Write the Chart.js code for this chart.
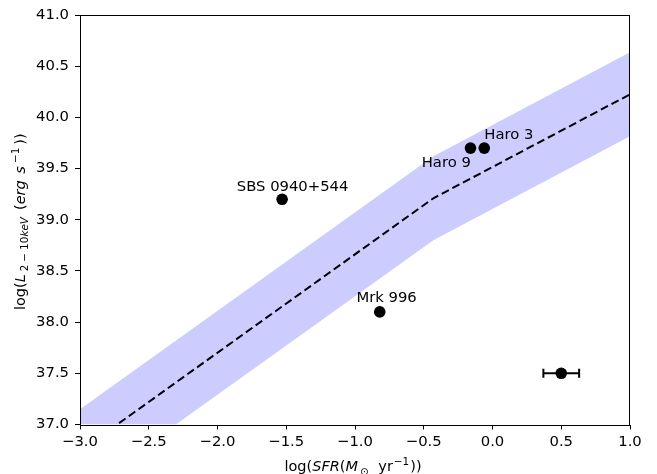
<!DOCTYPE html>
<html>
<head>
<meta charset="utf-8">
<script src="https://cdn.jsdelivr.net/npm/chart.js@4/dist/chart.umd.min.js"></script>
<style>
  body { margin: 0; background: #fff; }
  canvas { display: block; }
</style>
</head>
<body>
<canvas id="lxsfr" width="657" height="474"></canvas>
<script>
// data
var galaxyNames = ["SBS 0940+544", "Haro 9", "Haro 3", "Mrk 996"];
var galaxySFR = [-1.53, -0.16, -0.06, -0.82];
var galaxyLx = [39.2, 39.7, 39.7, 38.1];
// where each label starts (data coords, left edge / middle)
var labelSFR = [-1.86, -0.515, -0.06, -0.99];
var labelLx = [39.32, 39.55, 39.83, 38.23];

var stackSFR = [0.5];
var stackLx = [37.5];
var stackErr = [0.13];

// relation (piecewise) and its scatter band
var relSFR = [-3.0, -0.43, 1.0];
var relLx = [36.74, 39.21, 40.225];
var bandUpper = [37.15, 39.62, 40.635];
var bandLower = [36.33, 38.80, 39.815];

var FONT = "DejaVu Sans";
var FS = 14.8;     // ticks + annotations
var LFS = 14.5;    // axis labels

function pts(xs, ys) {
    var out = [];
    for (var i = 0; i < xs.length; i++) out.push({x: xs[i], y: ys[i]});
    return out;
}
function fmt(v) {
    var s = Math.abs(v).toFixed(1);
    return v < -1e-9 ? "\u2212" + s : s;
}

// a line of mathtext-ish text: italic / sub / sup pieces, g = extra gap in px
function richText(ctx, segs, cx, cy) {
    var small = LFS * 0.72;
    function font(s) {
        var sz = s.s ? small : LFS;
        return (s.i ? "italic " : "") + sz + "px '" + FONT + "'";
    }
    function wid(s) {
        if (s.g) return s.g;
        ctx.font = font(s);
        return ctx.measureText(s.t).width;
    }
    var w = 0;
    segs.forEach(function (s) { w += wid(s); });
    var x = cx - w / 2;
    ctx.textBaseline = "alphabetic";
    ctx.textAlign = "left";
    segs.forEach(function (s) {
        if (!s.g) {
            ctx.font = font(s);
            var dy = 0;
            if (s.s === "sub") dy = 3.5;
            if (s.s === "sup") dy = -6;
            ctx.fillText(s.t, x, cy + dy);
        }
        x += wid(s);
    });
}

var extras = {
    id: "extras",
    beforeDatasetsDraw: function (chart) {
        var ctx = chart.ctx, xs = chart.scales.x, ys = chart.scales.y;
        ctx.save();
        ctx.strokeStyle = "#000";
        ctx.lineWidth = 2;
        for (var i = 0; i < stackSFR.length; i++) {
            var x0 = xs.getPixelForValue(stackSFR[i] - stackErr[i]);
            var x1 = xs.getPixelForValue(stackSFR[i] + stackErr[i]);
            var y = ys.getPixelForValue(stackLx[i]);
            ctx.beginPath();
            ctx.moveTo(x0, y); ctx.lineTo(x1, y);
            ctx.moveTo(x0, y - 4.5); ctx.lineTo(x0, y + 4.5);
            ctx.moveTo(x1, y - 4.5); ctx.lineTo(x1, y + 4.5);
            ctx.stroke();
        }
        ctx.restore();
    },
    afterDatasetsDraw: function (chart) {
        var ctx = chart.ctx, xs = chart.scales.x, ys = chart.scales.y;
        ctx.save();
        ctx.fillStyle = "#000";
        ctx.font = FS + "px '" + FONT + "'";
        ctx.textAlign = "left";
        ctx.textBaseline = "middle";
        for (var i = 0; i < galaxyNames.length; i++) {
            ctx.fillText(galaxyNames[i], xs.getPixelForValue(labelSFR[i]), ys.getPixelForValue(labelLx[i]));
        }
        ctx.restore();
    },
    afterDraw: function (chart) {
        var ctx = chart.ctx, a = chart.chartArea;
        ctx.save();
        ctx.strokeStyle = "#000";
        ctx.lineWidth = 1;
        ctx.strokeRect(Math.round(a.left) + 0.5, Math.round(a.top) + 0.5,
            Math.round(a.right - a.left) - 1, Math.round(a.bottom - a.top));
        ctx.fillStyle = "#000";
        // x title
        richText(ctx, [
            {t: "log("}, {t: "SFR", i: 1}, {t: "("}, {t: "M", i: 1}, {g: 2},
            {t: "\u2299", s: "sub"}, {g: 5}, {t: " yr"}, {g: 1},
            {t: "\u22121", s: "sup"}, {g: 1}, {t: "))"}
        ], (a.left + a.right) / 2 - 2, 471);
        // y title
        ctx.translate(24.5, (a.top + a.bottom) / 2 + 2);
        ctx.rotate(-Math.PI / 2);
        richText(ctx, [
            {t: "log("}, {t: "L", i: 1}, {g: 3}, {t: "2", s: "sub"}, {g: 3},
            {t: "\u2212", s: "sub"}, {g: 3}, {t: "10", s: "sub"}, {t: "keV", i: 1, s: "sub"},
            {g: 7}, {t: "("}, {t: "erg", i: 1}, {g: 2}, {t: " "}, {t: "s", i: 1}, {g: 3},
            {t: "\u22121", s: "sup"}, {g: 3}, {t: "))"}
        ], 0, 0);
        ctx.restore();
    }
};

new Chart(document.getElementById("lxsfr"), {
    type: "scatter",
    data: {
        datasets: [{
            data: pts(galaxySFR, galaxyLx),
            backgroundColor: "#000", borderColor: "#000",
            pointRadius: 5.8, pointHoverRadius: 5.8, borderWidth: 0
        }, {
            data: pts(stackSFR, stackLx),
            backgroundColor: "#000", borderColor: "#000",
            pointRadius: 5.8, pointHoverRadius: 5.8, borderWidth: 0
        }, {
            data: pts(relSFR, relLx),
            showLine: true, pointRadius: 0,
            borderColor: "#000", borderWidth: 2, borderDash: [8, 4]
        }, {
            data: pts(relSFR, bandUpper),
            showLine: true, pointRadius: 0, borderWidth: 0,
            borderColor: "rgba(0,0,0,0)",
            backgroundColor: "rgba(0,0,255,0.2)",
            fill: "+1"
        }, {
            data: pts(relSFR, bandLower),
            showLine: true, pointRadius: 0, borderWidth: 0,
            borderColor: "rgba(0,0,0,0)"
        }]
    },
    options: {
        responsive: false,
        animation: false,
        devicePixelRatio: 1,
        layout: { padding: { left: 0, right: 27, top: 15, bottom: 0 } },
        plugins: { legend: { display: false }, tooltip: { enabled: false } },
        scales: {
            x: {
                type: "linear", min: -3, max: 1,
                afterFit: function (s) { s.height = 49.5; },
                border: { display: false },
                grid: { drawOnChartArea: false, drawTicks: true, tickLength: 5, color: "#000" },
                ticks: {
                    stepSize: 0.5, color: "#000", padding: 4,
                    font: { family: FONT, size: FS },
                    maxRotation: 0,
                    callback: function (v) { return fmt(v); }
                }
            },
            y: {
                type: "linear", min: 37, max: 41,
                afterFit: function (s) { s.width = 80; },
                border: { display: false },
                grid: { drawOnChartArea: false, drawTicks: true, tickLength: 5, color: "#000" },
                ticks: {
                    stepSize: 0.5, color: "#000", padding: 6,
                    font: { family: FONT, size: FS },
                    callback: function (v) { return fmt(v); }
                }
            }
        }
    },
    plugins: [extras]
});
</script>
</body>
</html>
